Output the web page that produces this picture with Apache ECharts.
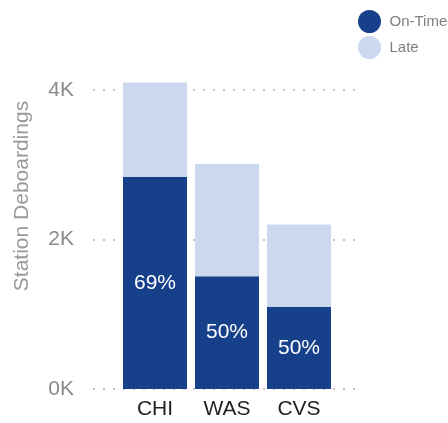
<!DOCTYPE html>
<html><head><meta charset="utf-8">
<script src="https://cdn.jsdelivr.net/npm/echarts@6/dist/echarts.min.js"></script>
<style>html,body{margin:0;padding:0;background:#fff}#c{width:448px;height:423px}</style>
</head><body><div id="c"></div>
<script>
var categories = ['CHI', 'WAS', 'CVS'];
var onTime = [2840, 1510, 1100];
var late = [1260, 1500, 1100];
var yTicks = [0, 2000, 4000];

var FONT = '"Liberation Sans", Arial, sans-serif';
var chart = echarts.init(document.getElementById('c'));
chart.setOption({
  animation: false,
  textStyle: { fontFamily: FONT },
  legend: {
    orient: 'vertical', left: 353, top: 5, icon: 'circle',
    itemWidth: 30, itemHeight: 23, itemGap: 3,
    textStyle: { color: '#808080', fontSize: 15, fontFamily: FONT },
    data: ['On-Time', 'Late']
  },
  grid: [
    { left: 93, right: 93, top: 90, bottom: 34 },
    { left: 119, right: 113, top: 90, bottom: 34 }
  ],
  xAxis: [
    { gridIndex: 0, type: 'value', show: false, min: 0, max: 1 },
    { gridIndex: 1, type: 'category', data: categories,
      axisLine: { show: false }, axisTick: { show: false },
      axisLabel: { color: '#222', fontSize: 21, margin: 10, fontFamily: FONT } }
  ],
  yAxis: [
    { gridIndex: 0, type: 'value', min: yTicks[0], max: yTicks[yTicks.length - 1], interval: yTicks[1] - yTicks[0],
      axisLine: { show: false }, axisTick: { show: false },
      axisLabel: { color: '#8a8a8a', fontSize: 21, margin: 19, fontFamily: FONT,
        formatter: function (v) { return (v / 1000) + 'K'; } },
      splitLine: { show: true, lineStyle: { color: '#c4c4c4', width: 2, type: [2, 8] } } },
    { gridIndex: 1, type: 'value', min: yTicks[0], max: yTicks[yTicks.length - 1], show: false,
      splitLine: { show: false } }
  ],
  graphic: [{
    type: 'text', x: 22, y: 196, rotation: Math.PI / 2,
    style: { text: 'Station Deboardings', fill: '#999', fontSize: 21, fontFamily: FONT,
      align: 'center', verticalAlign: 'middle' }
  }],
  series: [
    { name: 'On-Time', type: 'bar', stack: 's', xAxisIndex: 1, yAxisIndex: 1, data: onTime,
      barWidth: 64, clip: false, itemStyle: { color: '#17408B' },
      label: { show: true, position: 'inside', color: '#fff', fontSize: 21, fontFamily: FONT,
        formatter: function (p) {
          var i = p.dataIndex;
          return Math.round(onTime[i] / (onTime[i] + late[i]) * 100) + '%';
        } } },
    { name: 'Late', type: 'bar', stack: 's', xAxisIndex: 1, yAxisIndex: 1, data: late,
      barWidth: 64, clip: false, itemStyle: { color: '#CBD9F0' } }
  ]
});
</script></body></html>
